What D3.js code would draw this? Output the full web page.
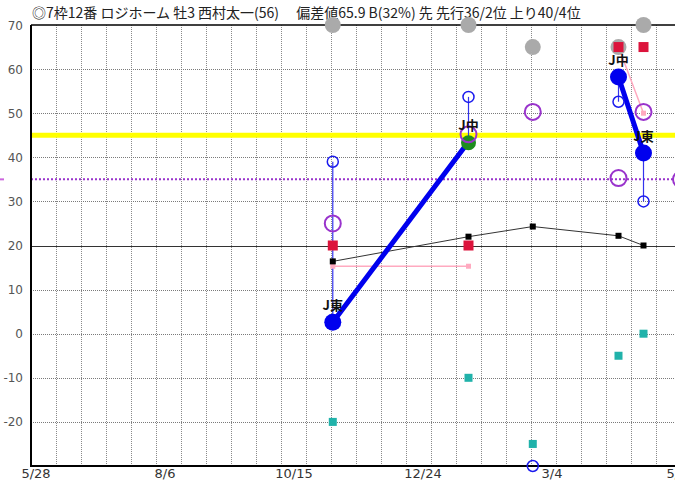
<!DOCTYPE html>
<html>
<head>
<meta charset="utf-8">
<script src="https://cdn.jsdelivr.net/npm/d3@7"></script>
<style>
  html, body { margin: 0; padding: 0; background: #fff; }
  svg { display: block; }
</style>
</head>
<body>
<script>
// ---- data ----
const title = "◎7枠12番 ロジホーム 牡3 西村太一(56)　 偏差値65.9 B(32%) 先 先行36/2位 上り40/4位";
const raceDates = ["2022-11-13", "2023-01-28", "2023-03-05", "2023-04-22", "2023-05-06", "2023-05-27"];
const venues = ["J東", "J中", null, "J中", "J東", null];
const grayTop = [70, 70, 65, 65, 70, null];
const redSq = [20, 20, null, 65, 65, null];
const tealSq = [-20, -10, -25, -5, 0, null];
const blackLine = [16.4, 22, 24.3, 22.2, 20, null];
const pinkLine = [15.3, 15.3, null, 65, 50, null];
const purpleRing = [25, 45.2, 50.3, 35.3, 50.3, 35];
const blueOpen = [39, 53.7, -30, 52.6, 30, null];
const blueDot = [2.6, 43.5, null, 58.2, 41, null];
const greenDot = [null, 43.3, null, null, null, null];
const yTicks = [70, 60, 50, 40, 30, 20, 10, 0, -10, -20];
const xTickLabels = ["5/28", "8/6", "10/15", "12/24", "3/4", "5/13"];
const yellowLevel = 45;
const purpleLevel = 35;
const baseLevel = 20;
const axisStart = "2022-05-28";
const gridStepDays = 14;

(function () {
// ---- layout ----
const W = 675, H = 482;
const mLeft = 31, mTop = 25, mBottom = 466;
const parse = d3.timeParse("%Y-%m-%d");
const t0 = parse(axisStart);
const pxPerDay = 25 / 14;
const nDays = Math.round((W - mLeft) / pxPerDay) + 20;
const endDate = d3.timeDay.offset(t0, nDays);
const x = d3.scaleTime().domain([t0, endDate]).range([mLeft, mLeft + nDays * pxPerDay]);
const y = d3.scaleLinear().domain([-30, 70]).range([mBottom, mTop]);
const xl = d3.scalePoint().domain(xTickLabels).range([36, 36 + 5 * 129]);

const svg = d3.select("body").append("svg").attr("width", W).attr("height", H)
  .style("font-family", "'Noto Sans CJK JP', 'Noto Sans', sans-serif");

const recs = raceDates.map((d, i) => ({
  date: parse(d), venue: venues[i], gray: grayTop[i], red: redSq[i], teal: tealSq[i],
  black: blackLine[i], pink: pinkLine[i], purple: purpleRing[i], bo: blueOpen[i], bd: blueDot[i], green: greenDot[i]
}));

// vertical dotted grid
const gridDates = d3.range(1, 30).map(k => d3.timeDay.offset(t0, k * gridStepDays)).filter(d => x(d) < W);
svg.append("g").selectAll("line").data(gridDates).join("line")
  .attr("x1", d => Math.round(x(d)) + 0.5).attr("x2", d => Math.round(x(d)) + 0.5)
  .attr("y1", mTop).attr("y2", mBottom)
  .attr("stroke", "#8a8a8a").attr("stroke-width", 1).attr("stroke-dasharray", "1,1");

// horizontal dotted grid
svg.append("g").selectAll("line").data(yTicks.filter(v => v !== 70 && v !== baseLevel)).join("line")
  .attr("x1", mLeft).attr("x2", W)
  .attr("y1", d => Math.round(y(d)) + 0.5).attr("y2", d => Math.round(y(d)) + 0.5)
  .attr("stroke", "#7a7a7a").attr("stroke-width", 1).attr("stroke-dasharray", "1,1");

// base line at 20
svg.append("line").attr("x1", mLeft).attr("x2", W)
  .attr("y1", Math.round(y(baseLevel)) + 0.5).attr("y2", Math.round(y(baseLevel)) + 0.5)
  .attr("stroke", "#333").attr("stroke-width", 1);

// yellow level
svg.append("line").attr("x1", mLeft).attr("x2", W)
  .attr("y1", y(yellowLevel)).attr("y2", y(yellowLevel))
  .attr("stroke", "#ffff00").attr("stroke-width", 5);

// purple dotted level
svg.append("line").attr("x1", mLeft).attr("x2", W)
  .attr("y1", y(purpleLevel)).attr("y2", y(purpleLevel))
  .attr("stroke", "#9933cc").attr("stroke-width", 2).attr("stroke-dasharray", "2,2");
svg.append("line").attr("x1", 0).attr("x2", 4)
  .attr("y1", y(purpleLevel)).attr("y2", y(purpleLevel))
  .attr("stroke", "#cc66dd").attr("stroke-width", 2);

// title
svg.append("text").attr("x", 32).attr("y", 18).attr("font-size", 14).attr("fill", "#222")
  .style("white-space", "pre").text(title);

// axes frame
svg.append("line").attr("x1", mLeft).attr("x2", W).attr("y1", mTop).attr("y2", mTop).attr("stroke", "#000").attr("stroke-width", 1.5);
svg.append("line").attr("x1", mLeft).attr("x2", mLeft).attr("y1", mTop).attr("y2", mBottom + 1).attr("stroke", "#000").attr("stroke-width", 2);
svg.append("line").attr("x1", mLeft).attr("x2", W).attr("y1", mBottom).attr("y2", mBottom).attr("stroke", "#000").attr("stroke-width", 2);

// y tick labels
svg.append("g").selectAll("text").data(yTicks).join("text")
  .attr("x", 23).attr("y", d => y(d) + 4.5).attr("text-anchor", "end")
  .attr("font-size", 12).attr("fill", "#555").attr("font-family", "'DejaVu Sans', sans-serif")
  .text(d => d);

// x tick labels
svg.append("g").selectAll("text").data(xTickLabels).join("text")
  .attr("x", d => xl(d)).attr("y", 478).attr("text-anchor", "middle")
  .attr("font-size", 13).attr("fill", "#333").attr("font-family", "'DejaVu Sans', sans-serif")
  .text(d => d);

const lineGen = key => d3.line().defined(d => d[key] != null).x(d => x(d.date)).y(d => y(d[key]));

// pink line
svg.append("path").datum(recs).attr("d", lineGen("pink")).attr("fill", "none")
  .attr("stroke", "#ffaac0").attr("stroke-width", 1.5);
// black line
svg.append("path").datum(recs).attr("d", lineGen("black")).attr("fill", "none")
  .attr("stroke", "#333").attr("stroke-width", 1);
// blue thin vertical connectors
svg.append("g").selectAll("line").data(recs.filter(d => d.bo != null && d.bd != null)).join("line")
  .attr("x1", d => x(d.date)).attr("x2", d => x(d.date))
  .attr("y1", d => y(d.bo)).attr("y2", d => y(d.bd))
  .attr("stroke", "#3333ee").attr("stroke-width", 1.2);
// blue thick line
svg.append("path").datum(recs).attr("d", lineGen("bd")).attr("fill", "none")
  .attr("stroke", "#0000ee").attr("stroke-width", 5);

// gray circles
svg.append("g").selectAll("circle").data(recs.filter(d => d.gray != null)).join("circle")
  .attr("cx", d => x(d.date)).attr("cy", d => y(d.gray)).attr("r", 8).attr("fill", "#aaaaaa");

const squares = (key, size, color) => svg.append("g").selectAll("rect").data(recs.filter(d => d[key] != null)).join("rect")
  .attr("x", d => x(d.date) - size / 2).attr("y", d => y(d[key]) - size / 2)
  .attr("width", size).attr("height", size).attr("fill", color);

squares("pink", 5, "#ffaac0");
squares("red", 10, "#dc143c");
squares("teal", 8, "#20b2aa");
squares("black", 6, "#000");

// green dot
svg.append("g").selectAll("circle").data(recs.filter(d => d.green != null)).join("circle")
  .attr("cx", d => x(d.date)).attr("cy", d => y(d.green)).attr("r", 7.5).attr("fill", "#1e8c1e");

// blue big dots
svg.append("g").selectAll("circle").data(recs.filter(d => d.bd != null && d.green == null)).join("circle")
  .attr("cx", d => x(d.date)).attr("cy", d => y(d.bd)).attr("r", 8.5).attr("fill", "#0000ee");

// purple rings
svg.append("g").selectAll("circle").data(recs.filter(d => d.purple != null)).join("circle")
  .attr("cx", d => x(d.date)).attr("cy", d => y(d.purple)).attr("r", 8).attr("fill", "none")
  .attr("stroke", "#9933cc").attr("stroke-width", 2);

// blue open circles
svg.append("g").selectAll("circle").data(recs.filter(d => d.bo != null)).join("circle")
  .attr("cx", d => x(d.date)).attr("cy", d => y(d.bo)).attr("r", 5.5).attr("fill", "none")
  .attr("stroke", "#1a1aee").attr("stroke-width", 1.5);

// venue labels
svg.append("g").selectAll("text").data(recs.filter(d => d.venue && d.bd != null)).join("text")
  .attr("x", d => x(d.date)).attr("y", d => y(d.bd) - 12).attr("text-anchor", "middle")
  .attr("font-size", 13).attr("font-weight", "bold").attr("fill", "#111")
  .text(d => d.venue);
})();
</script>
</body>
</html>
